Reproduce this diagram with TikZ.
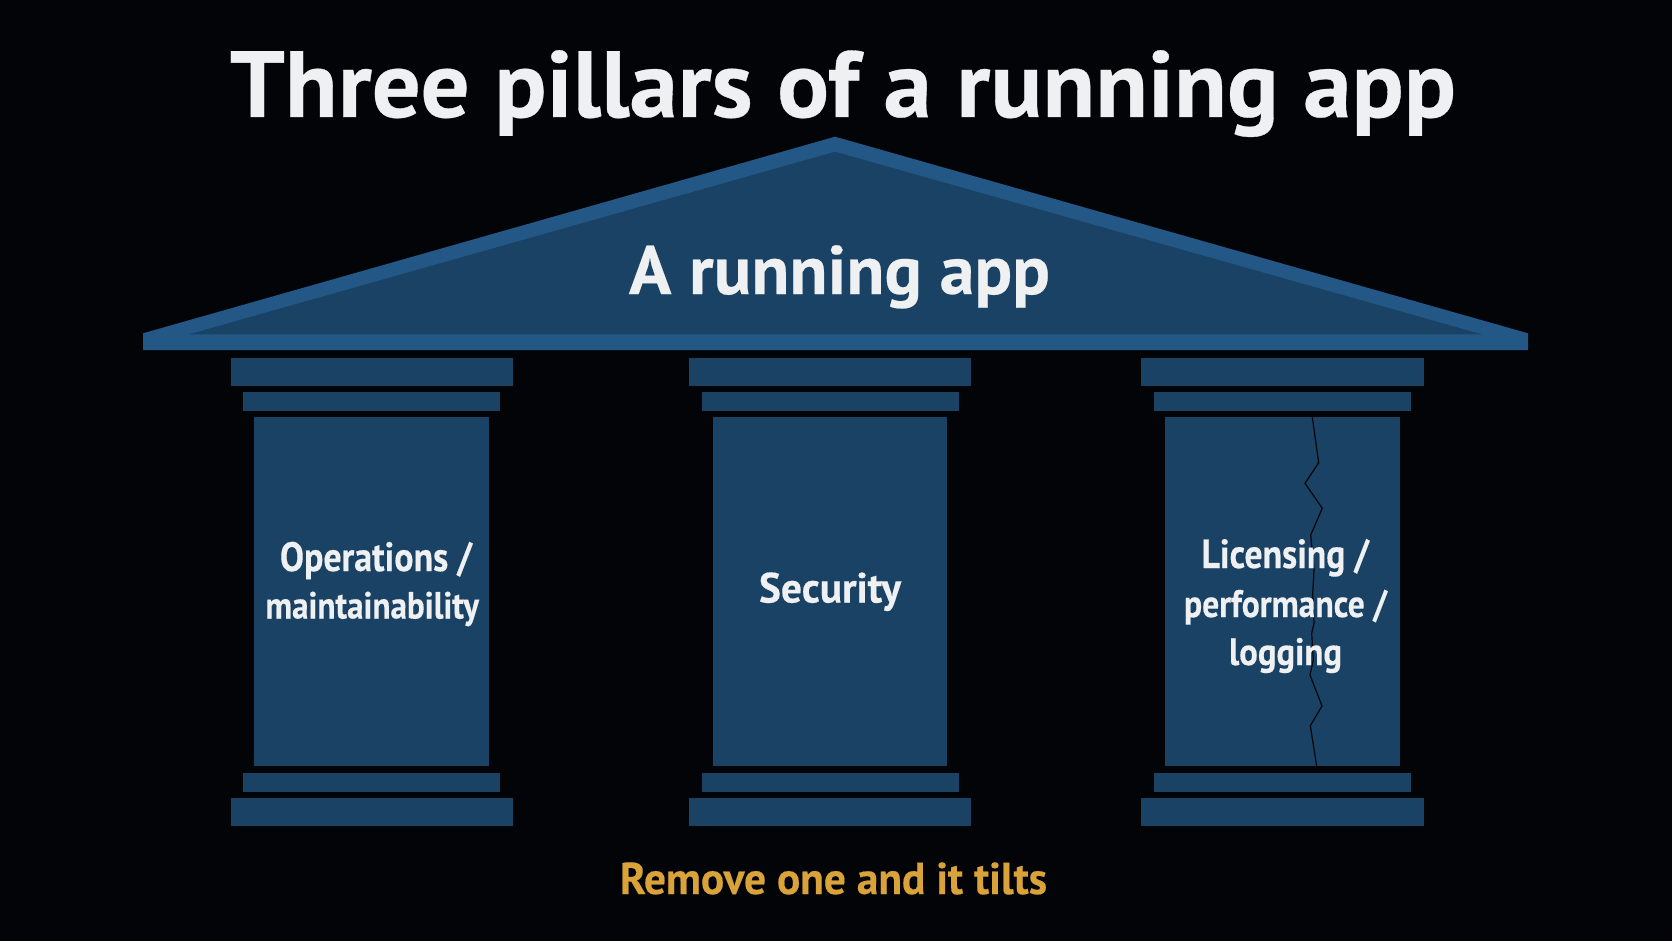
\documentclass[tikz,border=0pt]{standalone}
\usepackage{fontspec}
\setmainfont{PT Sans}[BoldFont={PT Sans Bold},BoldFeatures={FakeBold=0.35}]
\usepackage{graphicx}
\definecolor{ink}{HTML}{030408}
\definecolor{stone}{HTML}{1A4265}
\definecolor{trim}{HTML}{235886}
\definecolor{chalk}{HTML}{EFF0F2}
\definecolor{gold}{HTML}{D9A33A}
% text set to an exact printed width, with a vertical stretch as optional argument
\newcommand{\fitw}[3][1]{\scalebox{1}[#1]{\resizebox{#2pt}{!}{\bfseries #3}}}
\tikzset{
  label text/.style={inner sep=0pt,anchor=base,text=chalk},
  block/.style={fill=stone,draw=none},
}
\begin{document}
\begin{tikzpicture}[x=1pt,y=-1pt]
\fill[ink] (0,0) rectangle (1672,941);
\useasboundingbox (0,0) rectangle (1672,941);

% roof: lighter outline with a darker inner gable
\fill[trim] (835,136.7) -- (1528,333.3) -- (1528,350) -- (143,350) -- (143,333.3) -- cycle;
\fill[stone] (835,151.7) -- (1482,334.3) -- (189,334.3) -- cycle;

% the three pillars
\foreach \cx in {371.7,830,1282.5}{
  \begin{scope}[shift={(\cx,0)}]
    \fill[block] (-141.2,358.3) rectangle (141.2,386);
    \fill[block] (-128.5,391.7) rectangle (128.5,411.3);
    \fill[block] (-117.3,417.3) rectangle (117.3,766.3);
    \fill[block] (-128.5,772.7) rectangle (128.5,792);
    \fill[block] (-141.2,797.7) rectangle (141.2,826);
  \end{scope}
}

% crack through the third pillar
\draw[ink,line width=1.2pt,line join=miter]
  (1312.3,417.3) -- (1318.7,462.7) -- (1305,483.3) -- (1322.3,508.3) -- (1310.7,535)
  -- (1314,570) -- (1312.7,593.3) -- (1314,623.3) -- (1311.7,633.3) -- (1313.3,660)
  -- (1310,675) -- (1322,706) -- (1310.3,725.7) -- (1316.7,766.3);

% labels
\node[label text] (title) at (843,117) {\fitw[0.97]{1226}{Three pillars of a running app}};
\node[label text] (roofname) at (839.5,294) {\fitw[0.98]{421}{A running app}};
\node[label text] (opsa) at (376,571) {\fitw[1.14]{192}{Operations /}};
\node[label text] (opsb) at (372.2,618.5) {\fitw[1.14]{213.5}{maintainability}};
\node[label text] (sec) at (830,602.5) {\fitw[1.02]{142}{Security}};
\node[label text] (lica) at (1285.3,568) {\fitw[1.14]{167.3}{Licensing /}};
\node[label text] (licb) at (1285.5,617) {\fitw[1.14]{203}{performance /}};
\node[label text] (licc) at (1285.5,665) {\fitw[1.1]{113}{logging}};
\node[label text,text=gold] (note) at (833.5,894) {\fitw[1.03]{427}{Remove one and it tilts}};
\end{tikzpicture}
\end{document}
